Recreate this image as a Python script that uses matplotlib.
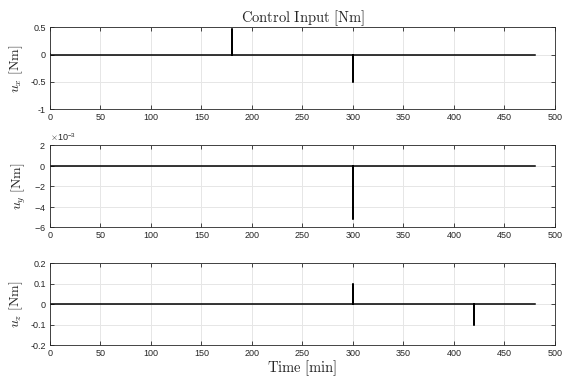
import numpy as np
import matplotlib.pyplot as plt
from matplotlib.ticker import ScalarFormatter, FormatStrFormatter

plt.rcParams['font.family'] = ['Liberation Sans', 'DejaVu Sans']
plt.rcParams['mathtext.fontset'] = 'cm'
plt.rcParams['axes.unicode_minus'] = False

# time breakpoints [min] and control torques [Nm]
ux_t = [0, 0, 0, 180, 180, 180, 300, 300, 300, 480]
ux_v = [0, 0.02, 0, 0, 0.47, 0, 0, -0.5, 0, 0]
uy_t = [0, 300, 300, 300, 480]
uy_v = [0, 0, -5.2e-3, 0, 0]
uz_t = [0, 300, 300, 300, 420, 420, 420, 480]
uz_v = [0, 0, 0.1, 0, 0, -0.1, 0, 0]

ylims = [(-1, 0.5), (-6e-3, 2e-3), (-0.2, 0.2)]
yticks = [[-1, -0.5, 0, 0.5], [-6e-3, -4e-3, -2e-3, 0, 2e-3], [-0.2, -0.1, 0, 0.1, 0.2]]
ylabels = [r'$u_x\ \mathrm{[Nm]}$', r'$u_y\ \mathrm{[Nm]}$', r'$u_z\ \mathrm{[Nm]}$']
series = [(ux_t, ux_v), (uy_t, uy_v), (uz_t, uz_v)]

fig = plt.figure(figsize=(5.68, 3.78), dpi=100)
bottoms = [0.7108, 0.3987, 0.0873]
axes = []
for i in range(3):
    ax = fig.add_axes([0.088, bottoms[i], 0.889, 0.2169])
    t, v = series[i]
    ax.plot(t, v, color='black', lw=1.1)
    ax.set_xlim(0, 500)
    ax.set_ylim(*ylims[i])
    ax.set_xticks(np.arange(0, 501, 50))
    ax.set_yticks(yticks[i])
    ax.yaxis.set_major_formatter(FormatStrFormatter('%g'))
    ax.grid(True, color='#e6e6e6', lw=0.7)
    ax.set_axisbelow(True)
    ax.tick_params(direction='in', top=True, right=True, labelsize=6.5,
                   colors='#262626', length=3, width=0.6, pad=3)
    for s in ax.spines.values():
        s.set_color('#262626')
        s.set_linewidth(0.6)
    ax.set_ylabel(ylabels[i], fontsize=10, color='#262626', labelpad=4)
    axes.append(ax)

fmt = ScalarFormatter(useMathText=True)
fmt.set_powerlimits((-2, 2))
axes[1].yaxis.set_major_formatter(fmt)
axes[1].yaxis.get_offset_text().set_fontsize(6.5)

axes[0].set_title(r'$\mathrm{Control\ Input\ [Nm]}$', fontsize=10.5, color='#262626', pad=4)
axes[2].set_xlabel(r'$\mathrm{Time\ [min]}$', fontsize=10.5, color='#262626', labelpad=0)

fig.savefig('out.png', dpi=100)
